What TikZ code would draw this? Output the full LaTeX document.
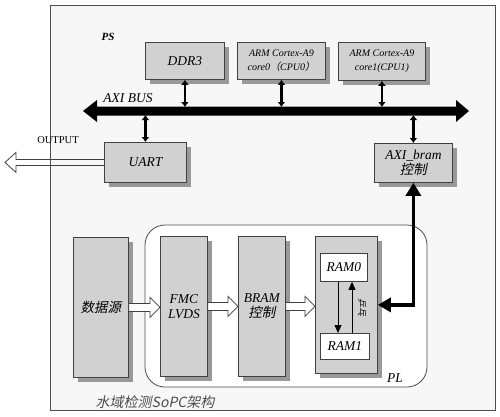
\documentclass[tikz,border=0pt]{standalone}
\usepackage{fontspec}
\setmainfont{Liberation Serif}
\newfontfamily\cjk[FakeSlant=0.2]{Noto Sans CJK SC}
\usetikzlibrary{arrows.meta,shadows,calc}
\newcommand\hollowarr[2]{%
  \draw[hol] let \p1=(#1), \p2=(#2) in
    (\x1,\y1+4pt) -- (\x2-10pt,\y1+4pt) -- (\x2-10pt,\y1+10pt) -- (\x2,\y1)
    -- (\x2-10pt,\y1-10pt) -- (\x2-10pt,\y1-4pt) -- (\x1,\y1-4pt) -- cycle;}
\begin{document}
\begin{tikzpicture}[x=1pt,y=-1pt,
  box/.style={draw=black!75, line width=0.8pt, fill=black!18,
    drop shadow={shadow xshift=5pt, shadow yshift=-5pt, fill=black!40, opacity=1},
    font=\fontsize{13.5}{15}\selectfont\itshape, align=center, inner sep=0pt,
    anchor=north west},
  smallbox/.style={box, font=\fontsize{10}{14}\selectfont\itshape},
  rambox/.style={draw=black!75, line width=0.8pt, fill=white, inner sep=0pt,
    anchor=north west, font=\fontsize{13.5}{15}\selectfont\itshape},
  dbl/.style={line width=2.6pt, {Latex[length=5pt,width=8pt]}-{Latex[length=5pt,width=8pt]}},
  big/.style={line width=3.6pt, {Triangle[length=13pt,width=15pt]}-{Triangle[length=13pt,width=14pt]}},
  thin/.style={line width=0.8pt, -{Triangle[length=8pt,width=7pt]}},
  hol/.style={draw=black!75, line width=0.8pt, fill=white},
  lbl/.style={font=\fontsize{13.5}{15}\selectfont\itshape, inner sep=0pt}]
\useasboundingbox (0,0) rectangle (500,416);
\fill[white] (0,0) rectangle (500,416);
% PS frame
\draw[fill=black!3, draw=black!70, line width=0.9pt] (50,5) rectangle (495,410);
\node[font=\fontsize{11}{12}\selectfont\bfseries\itshape, inner sep=0pt] (ps) at (108,37) {PS};
% top boxes
\node[box, minimum width=79, minimum height=37] (ddr) at (145,42) {DDR3};
\node[smallbox, minimum width=88, minimum height=37] (cpu0) at (237,42) {ARM Cortex-A9\\core0{\cjk （}CPU0{\cjk ）}};
\node[smallbox, minimum width=87, minimum height=38] (cpu1) at (338,42) {ARM Cortex-A9\\core1(CPU1)};
% AXI bus
\coordinate (busT) at (0,107);
\coordinate (busB) at (0,115);
\fill (83,111) -- (97,100) -- (97,106.5) -- (456,106.5) -- (456,100) -- (469,111)
  -- (456,122) -- (456,115.5) -- (97,115.5) -- (97,122) -- cycle;
\node[lbl] (axibus) at (128,98) {AXI BUS};
% UART and AXI_bram
\node[box, minimum width=82, minimum height=40] (uart) at (104,142) {UART};
\node[box, minimum width=78, minimum height=39] (bram) at (374,143) {AXI\_bram\\{\cjk 控制}};
\draw[dbl] (ddr.south) -- (ddr.south |- busT);
\draw[dbl] (cpu0.south) -- (cpu0.south |- busT);
\draw[dbl] (cpu1.south) -- (cpu1.south |- busT);
\draw[dbl] (uart.north |- busB) -- (uart.north);
\draw[dbl] (bram.north |- busB) -- (bram.north);
% OUTPUT
\coordinate (out) at (5,162);
\draw[draw=black!75, line width=0.8pt] let \p1=(uart.west), \p2=(out) in
  (\x1,\y1+3pt) -- (\x2+11pt,\y1+3pt) -- (\x2+11pt,\y1+10pt) -- (\x2,\y1)
  -- (\x2+11pt,\y1-10pt) -- (\x2+11pt,\y1-3pt) -- (\x1,\y1-3pt);
\node[font=\fontsize{10.5}{12}\selectfont, inner sep=0pt] (outl) at (58,140) {OUTPUT};
% PL region
\draw[fill=white, draw=black!70, line width=0.8pt, rounded corners=20pt] (145,225) rectangle (427,387);
\node[lbl] (pl) at (395,378) {PL};
% lower boxes
\node[box, minimum width=55, minimum height=140] (src) at (73,237) {\cjk 数据源};
\node[box, minimum width=47, minimum height=140] (fmc) at (160,236) {FMC\\LVDS};
\node[box, minimum width=47, minimum height=140] (brc) at (238,236) {BRAM\\{\cjk 控制}};
\node[box, minimum width=62, minimum height=137] (ramb) at (315,236) {};
\node[rambox, minimum width=47, minimum height=28] (ram0) at (320,253) {RAM0};
\node[rambox, minimum width=49, minimum height=26] (ram1) at (320,333) {RAM1};
\coordinate (dn) at (338,0);
\coordinate (up) at (352,0);
\draw[thin] (ram0.south -| dn) -- (ram1.north -| dn);
\draw[thin] (ram1.north -| up) -- (ram0.south -| up);
\node[font=\fontsize{9}{10}\selectfont\cjk, rotate=-90, inner sep=0pt] (pp) at (362,307) {乒乓};
% hollow arrows
\hollowarr{src.east}{fmc.west}
\hollowarr{fmc.east}{brc.west}
\hollowarr{brc.east}{ramb.west}
% big connector
\draw[big] (bram.south) |- (ramb.east);
% caption
\node[font=\fontsize{14}{16}\selectfont\cjk, text=black!70, inner sep=0pt] (cap) at (155,402) {水域检测SoPC架构};
\end{tikzpicture}
\end{document}
